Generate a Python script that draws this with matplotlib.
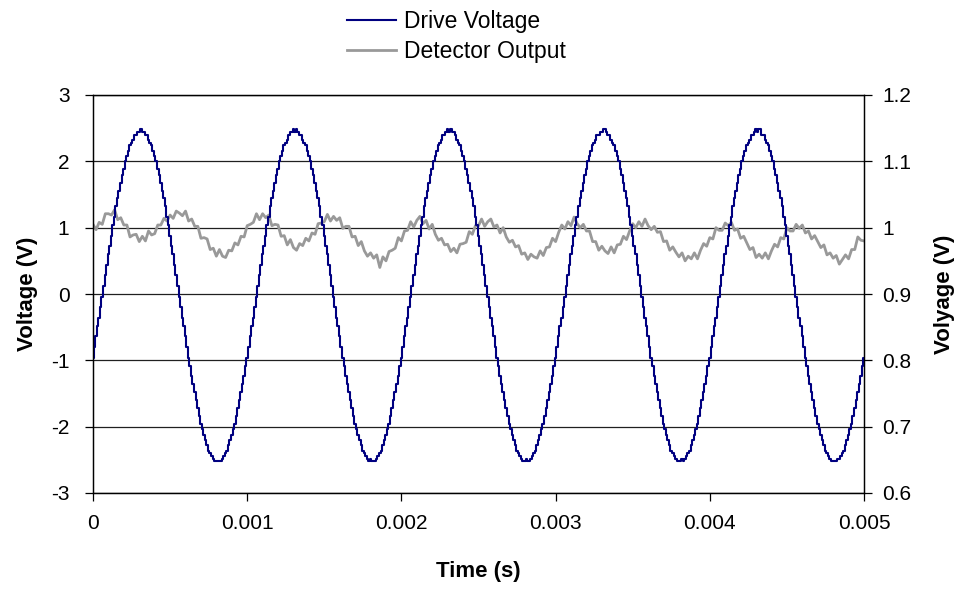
import numpy as np
import matplotlib
matplotlib.use("Agg")
import matplotlib.pyplot as plt
from matplotlib.ticker import FixedLocator, FixedFormatter

# ---- data -------------------------------------------------------------
drive_dt = 1e-5      # sampling interval of the drive record (s)
detector_dt = 2e-5   # sampling interval of the detector record (s)

# Drive voltage (V), quantised ADC samples, one row per millisecond
drive_voltage = [
    -0.96, -0.80, -0.64, -0.48, -0.36, -0.20, -0.04, 0.12, 0.28, 0.44, 0.60, 0.72, 0.88, 1.04, 1.16, 1.32, 1.44, 1.56, 1.68, 1.80,
    1.88, 2.00, 2.08, 2.16, 2.24, 2.28, 2.32, 2.40, 2.40, 2.44, 2.44, 2.48, 2.44, 2.44, 2.40, 2.40, 2.32, 2.28, 2.24, 2.16,
    2.08, 2.00, 1.88, 1.80, 1.68, 1.56, 1.44, 1.32, 1.16, 1.04, 0.88, 0.72, 0.60, 0.44, 0.28, 0.12, -0.04, -0.20, -0.36, -0.48,
    -0.64, -0.80, -0.96, -1.08, -1.24, -1.36, -1.48, -1.60, -1.72, -1.84, -1.96, -2.04, -2.12, -2.20, -2.28, -2.36, -2.40, -2.44, -2.48, -2.52,
    -2.52, -2.52, -2.52, -2.52, -2.48, -2.44, -2.40, -2.36, -2.28, -2.20, -2.12, -2.04, -1.96, -1.84, -1.72, -1.60, -1.48, -1.36, -1.24, -1.08,
    -0.96, -0.80, -0.64, -0.48, -0.36, -0.20, -0.04, 0.12, 0.28, 0.44, 0.60, 0.72, 0.88, 1.04, 1.16, 1.32, 1.44, 1.56, 1.68, 1.80,
    1.88, 2.00, 2.08, 2.16, 2.24, 2.28, 2.32, 2.40, 2.44, 2.44, 2.48, 2.44, 2.48, 2.44, 2.40, 2.40, 2.32, 2.28, 2.24, 2.16,
    2.08, 2.00, 1.88, 1.80, 1.68, 1.56, 1.44, 1.32, 1.16, 1.04, 0.88, 0.72, 0.60, 0.44, 0.28, 0.12, -0.04, -0.20, -0.36, -0.48,
    -0.64, -0.80, -0.96, -1.08, -1.24, -1.36, -1.48, -1.60, -1.72, -1.84, -1.96, -2.04, -2.12, -2.20, -2.28, -2.36, -2.40, -2.44, -2.48, -2.52,
    -2.48, -2.52, -2.52, -2.52, -2.48, -2.44, -2.40, -2.36, -2.28, -2.20, -2.12, -2.04, -1.96, -1.84, -1.72, -1.60, -1.48, -1.36, -1.24, -1.08,
    -0.96, -0.80, -0.64, -0.48, -0.36, -0.20, -0.04, 0.12, 0.28, 0.44, 0.60, 0.72, 0.88, 1.04, 1.16, 1.32, 1.44, 1.56, 1.68, 1.80,
    1.88, 2.00, 2.08, 2.16, 2.24, 2.28, 2.32, 2.40, 2.40, 2.44, 2.48, 2.44, 2.48, 2.44, 2.44, 2.40, 2.32, 2.28, 2.24, 2.16,
    2.08, 2.00, 1.88, 1.80, 1.68, 1.56, 1.44, 1.32, 1.16, 1.04, 0.88, 0.72, 0.60, 0.44, 0.28, 0.12, -0.04, -0.20, -0.36, -0.48,
    -0.64, -0.80, -0.96, -1.08, -1.24, -1.36, -1.48, -1.60, -1.72, -1.84, -1.96, -2.04, -2.12, -2.20, -2.28, -2.36, -2.40, -2.44, -2.48, -2.52,
    -2.52, -2.48, -2.52, -2.52, -2.48, -2.44, -2.40, -2.36, -2.28, -2.20, -2.12, -2.04, -1.96, -1.84, -1.72, -1.60, -1.48, -1.36, -1.24, -1.08,
    -0.96, -0.80, -0.64, -0.48, -0.36, -0.20, -0.04, 0.12, 0.28, 0.44, 0.60, 0.72, 0.88, 1.04, 1.16, 1.32, 1.44, 1.56, 1.68, 1.80,
    1.88, 2.00, 2.08, 2.16, 2.24, 2.28, 2.32, 2.40, 2.40, 2.44, 2.44, 2.48, 2.48, 2.44, 2.40, 2.40, 2.32, 2.28, 2.24, 2.16,
    2.08, 2.00, 1.88, 1.80, 1.68, 1.56, 1.44, 1.32, 1.16, 1.04, 0.88, 0.72, 0.60, 0.44, 0.28, 0.12, -0.04, -0.20, -0.36, -0.48,
    -0.64, -0.80, -0.96, -1.08, -1.24, -1.36, -1.48, -1.60, -1.72, -1.84, -1.96, -2.04, -2.12, -2.20, -2.28, -2.36, -2.40, -2.44, -2.48, -2.52,
    -2.52, -2.52, -2.48, -2.52, -2.48, -2.44, -2.40, -2.36, -2.28, -2.20, -2.12, -2.04, -1.96, -1.84, -1.72, -1.60, -1.48, -1.36, -1.24, -1.08,
    -0.96, -0.80, -0.64, -0.48, -0.36, -0.20, -0.04, 0.12, 0.28, 0.44, 0.60, 0.72, 0.88, 1.04, 1.16, 1.32, 1.44, 1.56, 1.68, 1.80,
    1.88, 2.00, 2.08, 2.16, 2.24, 2.28, 2.32, 2.40, 2.40, 2.44, 2.48, 2.44, 2.48, 2.48, 2.40, 2.40, 2.32, 2.28, 2.24, 2.16,
    2.08, 2.00, 1.88, 1.80, 1.68, 1.56, 1.44, 1.32, 1.16, 1.04, 0.88, 0.72, 0.60, 0.44, 0.28, 0.12, -0.04, -0.20, -0.36, -0.48,
    -0.64, -0.80, -0.96, -1.08, -1.24, -1.36, -1.48, -1.60, -1.72, -1.84, -1.96, -2.04, -2.12, -2.20, -2.28, -2.36, -2.40, -2.44, -2.48, -2.52,
    -2.52, -2.52, -2.52, -2.48, -2.48, -2.44, -2.40, -2.36, -2.28, -2.20, -2.12, -2.04, -1.96, -1.84, -1.72, -1.60, -1.48, -1.36, -1.24, -1.08,
    -0.96,
]

# Detector output (V)
detector_output = [
    1.005, 0.997, 1.008, 1.005, 1.021, 1.021, 1.019, 1.027, 1.012, 1.015,
    1.004, 1.004, 0.986, 0.989, 0.990, 0.979, 0.987, 0.980, 0.995, 0.989,
    0.991, 1.004, 1.004, 1.014, 1.010, 1.019, 1.014, 1.025, 1.022, 1.018,
    1.025, 1.010, 1.013, 1.002, 1.002, 0.984, 0.985, 0.983, 0.967, 0.969,
    0.957, 0.967, 0.957, 0.955, 0.966, 0.965, 0.977, 0.974, 0.987, 0.986,
    1.003, 1.005, 1.008, 1.021, 1.012, 1.021, 1.015, 1.019, 1.003, 1.005,
    1.004, 0.987, 0.988, 0.974, 0.982, 0.970, 0.966, 0.976, 0.973, 0.984,
    0.980, 0.992, 0.990, 1.006, 1.007, 1.009, 1.020, 1.010, 1.017, 1.011,
    1.015, 0.999, 1.002, 1.002, 0.986, 0.987, 0.973, 0.979, 0.965, 0.957,
    0.962, 0.954, 0.959, 0.940, 0.956, 0.950, 0.964, 0.966, 0.969, 0.985,
    0.980, 0.995, 0.996, 1.009, 1.001, 1.011, 1.017, 1.006, 1.011, 0.998,
    1.005, 0.990, 0.981, 0.984, 0.974, 0.975, 0.964, 0.969, 0.962, 0.975,
    0.976, 0.978, 0.994, 0.990, 1.003, 1.003, 1.013, 1.002, 1.009, 1.013,
    1.001, 1.004, 0.992, 1.000, 0.986, 0.978, 0.981, 0.971, 0.973, 0.960,
    0.962, 0.952, 0.960, 0.956, 0.954, 0.965, 0.958, 0.970, 0.971, 0.984,
    0.979, 0.993, 1.004, 0.998, 1.009, 1.003, 1.016, 1.006, 1.000, 1.005,
    0.995, 0.995, 0.979, 0.979, 0.966, 0.972, 0.965, 0.961, 0.971, 0.962,
    0.974, 0.975, 0.987, 0.982, 0.995, 1.006, 1.000, 1.009, 1.002, 1.013,
    1.003, 0.997, 1.002, 0.993, 0.994, 0.979, 0.980, 0.966, 0.971, 0.963,
    0.956, 0.962, 0.950, 0.957, 0.953, 0.962, 0.953, 0.966, 0.976, 0.972,
    0.985, 0.983, 1.000, 0.996, 0.996, 1.007, 1.003, 1.008, 0.996, 0.998,
    0.984, 0.987, 0.977, 0.967, 0.970, 0.955, 0.960, 0.954, 0.962, 0.953,
    0.965, 0.975, 0.971, 0.985, 0.983, 1.000, 0.995, 0.995, 1.005, 0.999,
    1.004, 0.992, 0.995, 0.983, 0.988, 0.979, 0.970, 0.974, 0.959, 0.962,
    0.954, 0.958, 0.945, 0.952, 0.959, 0.953, 0.967, 0.967, 0.986, 0.981,
    0.980,
]

time_ticks = [0, 0.001, 0.002, 0.003, 0.004, 0.005]
time_labels = ["0", "0.001", "0.002", "0.003", "0.004", "0.005"]
left_ticks = [-3, -2, -1, 0, 1, 2, 3]
left_labels = ["-3", "-2", "-1", "0", "1", "2", "3"]
right_ticks = [0.6, 0.7, 0.8, 0.9, 1.0, 1.1, 1.2]
right_labels = ["0.6", "0.7", "0.8", "0.9", "1", "1.1", "1.2"]

# ---- figure -----------------------------------------------------------
plt.rcParams["font.family"] = ["Liberation Sans", "DejaVu Sans"]
tick_fs = 15
label_fs = 16
legend_fs = 16.5

W, H = 959, 594
fig = plt.figure(figsize=(W / 100, H / 100), dpi=100)
ax = fig.add_axes([93 / W, 1 - 493 / H, 771 / W, 398 / H])
ax2 = ax.twinx()

# detector axis sits underneath so the drive trace is drawn on top
ax2.set_zorder(0)
ax.set_zorder(1)
ax.patch.set_visible(False)

t_drive = np.arange(len(drive_voltage)) * drive_dt
t_det = np.arange(len(detector_output)) * detector_dt

ax2.plot(t_det, detector_output, color="#999999", lw=2.0,
         label="Detector Output")
ax.plot(t_drive, drive_voltage, color="#000080", lw=1.5,
        drawstyle="steps-mid", label="Drive Voltage")

ax.set_xlim(0, 0.005)
ax.set_ylim(-3, 3)
ax2.set_ylim(0.6, 1.2)

# horizontal grid (shared positions on both scales)
for v in right_ticks:
    ax2.axhline(v, color="#202020", lw=0.9, zorder=0.5)

ax.xaxis.set_major_locator(FixedLocator(time_ticks))
ax.xaxis.set_major_formatter(FixedFormatter(time_labels))
ax.yaxis.set_major_locator(FixedLocator(left_ticks))
ax.yaxis.set_major_formatter(FixedFormatter(left_labels))
ax2.yaxis.set_major_locator(FixedLocator(right_ticks))
ax2.yaxis.set_major_formatter(FixedFormatter(right_labels))

for a in (ax, ax2):
    a.tick_params(axis="both", direction="out", length=6, width=0.9,
                  labelsize=tick_fs, colors="black")
    for s in a.spines.values():
        s.set_color("black")
        s.set_linewidth(0.9)
ax.tick_params(axis="y", pad=11)
ax.tick_params(axis="x", pad=9)
ax2.tick_params(axis="y", pad=7)

ax.set_xlabel("Time (s)", fontsize=label_fs, fontweight="bold", va="center")
ax.set_ylabel("Voltage (V)", fontsize=label_fs, fontweight="bold", va="center")
ax2.set_ylabel("Volyage (V)", fontsize=label_fs, fontweight="bold", va="center")
ax.xaxis.set_label_coords(0.5, (493 - 572) / 398)
ax.yaxis.set_label_coords((27 - 93) / 771, 0.5)
ax2.yaxis.set_label_coords((944 - 93) / 771, 0.5)

h1, l1 = ax.get_legend_handles_labels()
h2, l2 = ax2.get_legend_handles_labels()
fig.legend(h1 + h2, l1 + l2, loc="upper left",
           bbox_to_anchor=(347 / W, 1 - 10 / H), frameon=False,
           fontsize=legend_fs, handlelength=2.15, handletextpad=0.33,
           labelspacing=0.3, borderpad=0.0, borderaxespad=0.0)

fig.savefig("out.png", dpi=100)
